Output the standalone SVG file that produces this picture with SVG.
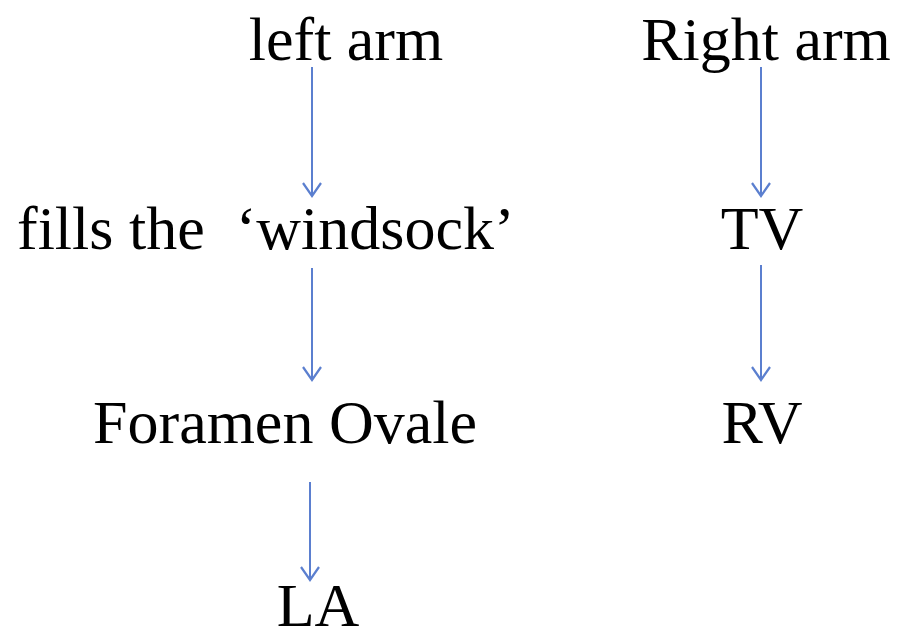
<svg xmlns="http://www.w3.org/2000/svg" width="898" height="640" viewBox="0 0 898 640">
<defs>
<marker id="ah" markerUnits="userSpaceOnUse" markerWidth="20" markerHeight="24" viewBox="-16 -12 20 24" refX="0" refY="0" orient="auto">
<path d="M-13,-9 L0,0 L-13,9" fill="none" stroke="#5b7fcf" stroke-width="2.2"/>
</marker>
<style>
.t{font-family:"Liberation Serif","Times New Roman",serif;font-size:62px;fill:#000}
.c{stroke:#5b7fcf;stroke-width:2;fill:none;marker-end:url(#ah)}
</style>
</defs>
<rect width="898" height="640" fill="#fff"/>
<g id="left-arm"><text class="t" x="346" y="60" text-anchor="middle">left arm</text></g>
<g id="right-arm"><text class="t" x="766" y="60" text-anchor="middle">Right arm</text></g>
<g id="windsock"><text class="t" x="17" y="249" xml:space="preserve">fills the  ‘windsock’</text></g>
<g id="tv"><text class="t" x="762" y="249" text-anchor="middle">TV</text></g>
<g id="foramen"><text class="t" x="93" y="443">Foramen Ovale</text></g>
<g id="rv"><text class="t" x="762" y="443" text-anchor="middle">RV</text></g>
<g id="la"><text class="t" x="318" y="626" text-anchor="middle">LA</text></g>
<g id="connectors">
<line class="c" x1="312" y1="67" x2="312" y2="196"/>
<line class="c" x1="312" y1="268" x2="312" y2="380"/>
<line class="c" x1="310" y1="482" x2="310" y2="580"/>
<line class="c" x1="761" y1="67" x2="761" y2="196"/>
<line class="c" x1="761" y1="265" x2="761" y2="380"/>
</g>
</svg>
